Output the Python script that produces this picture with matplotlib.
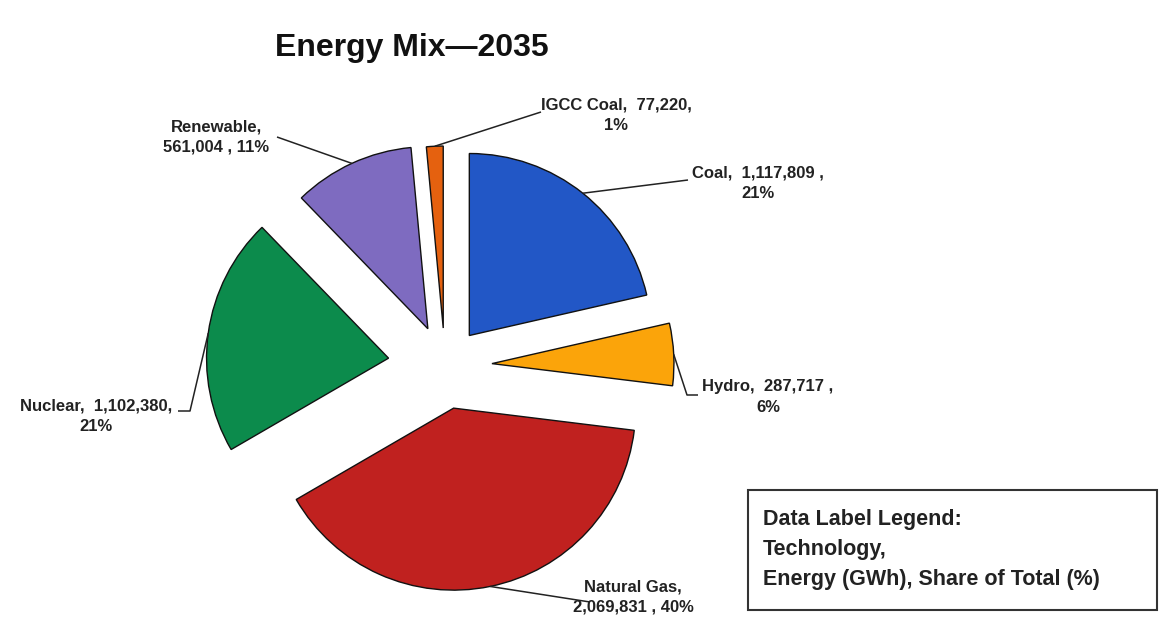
import numpy as np
import matplotlib.pyplot as plt
from matplotlib.patches import Rectangle

plt.rcParams['font.family'] = ['Liberation Sans', 'DejaVu Sans']

W, H = 1160, 626

# energy mix data (GWh), clockwise from 12 o'clock
techs = ['Coal', 'Hydro', 'Natural Gas', 'Nuclear', 'Renewable', 'IGCC Coal']
energy = [1117809, 287717, 2069831, 1102380, 561004, 77220]
shares = [21, 6, 40, 21, 11, 1]
colors = ['#2257C6', '#FBA40A', '#C0211F', '#0C8B4C', '#7E6BC0', '#E5610F']
explode = [39, 47, 43, 57, 41, 38]

label_text = [
    'Coal,  1,117,809 ,\n21%',
    'Hydro,  287,717 ,\n6%',
    'Natural Gas,\n2,069,831 , 40%',
    'Nuclear,  1,102,380,\n21%',
    'Renewable,\n561,004 , 11%',
    'IGCC Coal,  77,220,\n1%',
]
# text centre and leader points near the text (pixel coords, y down)
label_pos = [(758, 183), (768, 397), (633, 597), (96, 416), (216, 137), (616, 115)]
leader_pts = [
    [(688, 180)],
    [(687, 395), (698, 395)],
    [(590, 602)],
    [(190, 411), (178, 411)],
    [(277, 137)],
    [(541, 112)],
]


def px(x, y):
    return x, H - y


fig = plt.figure(figsize=(W / 100, H / 100), dpi=100)
ax = fig.add_axes([0, 0, 1, 1])

wedges, _ = ax.pie(energy, colors=colors, explode=explode, startangle=90,
                   counterclock=False, center=px(445, 366), radius=182,
                   wedgeprops=dict(edgecolor='#111111', linewidth=1.0))

ax.set_xlim(0, W)
ax.set_ylim(0, H)
ax.set_aspect('equal')
ax.axis('off')

for w, txt, pos, pts in zip(wedges, label_text, label_pos, leader_pts):
    mid = np.deg2rad((w.theta1 + w.theta2) / 2)
    cx, cy = w.center
    ax0 = cx + w.r * np.cos(mid)
    ay0 = cy + w.r * np.sin(mid)
    xs = [ax0] + [p[0] for p in pts]
    ys = [ay0] + [H - p[1] for p in pts]
    ax.plot(xs, ys, color='#222222', lw=1.1, solid_capstyle='butt')
    ax.text(*px(*pos), txt, ha='center', va='center', fontsize=12,
            fontweight='bold', color='#222222', linespacing=1.45)

ax.text(*px(412, 48), 'Energy Mix\u20142035', ha='center', va='center',
        fontsize=23, fontweight='bold', color='#111111')

# data label legend box
x0, y0, x1, y1 = 748, 490, 1157, 610
ax.add_patch(Rectangle(px(x0, y1), x1 - x0, y1 - y0, fill=False,
                       edgecolor='#333333', lw=1.5))
for i, line in enumerate(['Data Label Legend:', 'Technology,',
                          'Energy (GWh), Share of Total (%)']):
    ax.text(*px(763, 519 + 30 * i), line, ha='left', va='center',
            fontsize=15.5, fontweight='bold', color='#222222')

fig.savefig('out.png', dpi=100)
